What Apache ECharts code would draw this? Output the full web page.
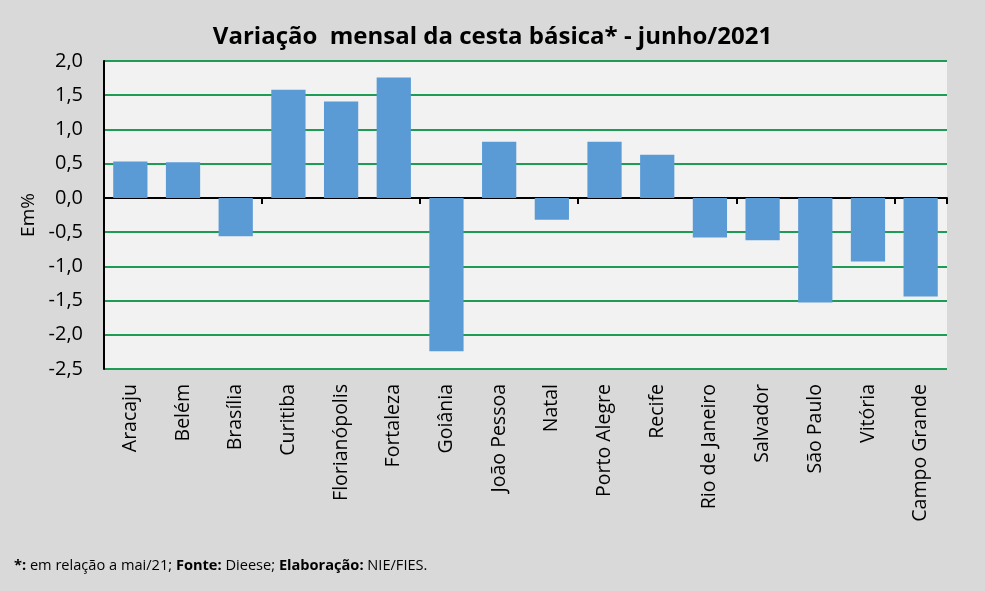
<!DOCTYPE html>
<html>
<head>
<meta charset="utf-8">
<script src="https://cdn.jsdelivr.net/npm/echarts@6/dist/echarts.min.js"></script>
<style>
    html, body { margin: 0; padding: 0; background: #d9d9d9; }
    #chart { width: 985px; height: 591px; }
</style>
</head>
<body>
<div id="chart"></div>
<script>
const cities = ['Aracaju', 'Belém', 'Brasília', 'Curitiba', 'Florianópolis', 'Fortaleza', 'Goiânia',
    'João Pessoa', 'Natal', 'Porto Alegre', 'Recife', 'Rio de Janeiro', 'Salvador', 'São Paulo',
    'Vitória', 'Campo Grande']
const variation = [0.53, 0.52, -0.56, 1.58, 1.41, 1.76, -2.24, 0.82, -0.32, 0.82, 0.63, -0.58,
    -0.62, -1.53, -0.93, -1.44]
const yMin = -2.5, yMax = 2.0, yStep = 0.5

const font = 'Open Sans'
const green = '#1e9b55'
const chart = echarts.init(document.getElementById('chart'))

chart.setOption({
    backgroundColor: '#d9d9d9',
    textStyle: { fontFamily: font },
    title: [
        {
            text: 'Variação  mensal da cesta básica* - junho/2021',
            left: 'center',
            top: 20,
            textStyle: { fontFamily: font, fontSize: 24, fontWeight: 'bold', color: '#000' }
        },
        {
            text: '{b|*:} em relação a mai/21; {b|Fonte:} Dieese; {b|Elaboração:} NIE/FIES.',
            left: 9,
            top: 553,
            textStyle: {
                fontFamily: font, fontSize: 14.6, color: '#000', fontWeight: 'normal',
                rich: { b: { fontFamily: font, fontSize: 14.6, fontWeight: 'bold', color: '#000' } }
            }
        }
    ],
    grid: {
        left: 104, right: 38, top: 61, bottom: 222,
        show: true, backgroundColor: '#f2f2f2', borderWidth: 0
    },
    xAxis: [
        {
            type: 'category',
            data: cities,
            axisLine: { onZero: true, lineStyle: { color: '#000', width: 2 } },
            axisTick: { show: true, length: 6, lineStyle: { color: '#000', width: 2 } },
            axisLabel: { show: false }
        },
        {
            type: 'category',
            data: cities,
            position: 'bottom',
            axisLine: { show: false, onZero: false },
            axisTick: { show: false },
            axisLabel: {
                rotate: 90, interval: 0, margin: 15,
                fontFamily: font, fontSize: 19.5, color: '#000'
            }
        }
    ],
    yAxis: {
        type: 'value',
        min: yMin, max: yMax, interval: yStep,
        name: 'Em%',
        nameLocation: 'middle',
        nameGap: 66,
        nameTextStyle: { fontFamily: font, fontSize: 19, color: '#000' },
        axisLine: { show: true, lineStyle: { color: '#000', width: 2 } },
        axisTick: { show: false },
        axisLabel: {
            fontFamily: font, fontSize: 20, color: '#000', margin: 21,
            formatter: v => v.toFixed(1).replace('.', ',')
        },
        splitLine: { lineStyle: { color: green, width: 2 } }
    },
    series: [
        {
            type: 'bar',
            xAxisIndex: 0,
            data: variation,
            barWidth: '65%',
            itemStyle: { color: '#5b9bd5' }
        }
    ]
})
</script>
</body>
</html>
